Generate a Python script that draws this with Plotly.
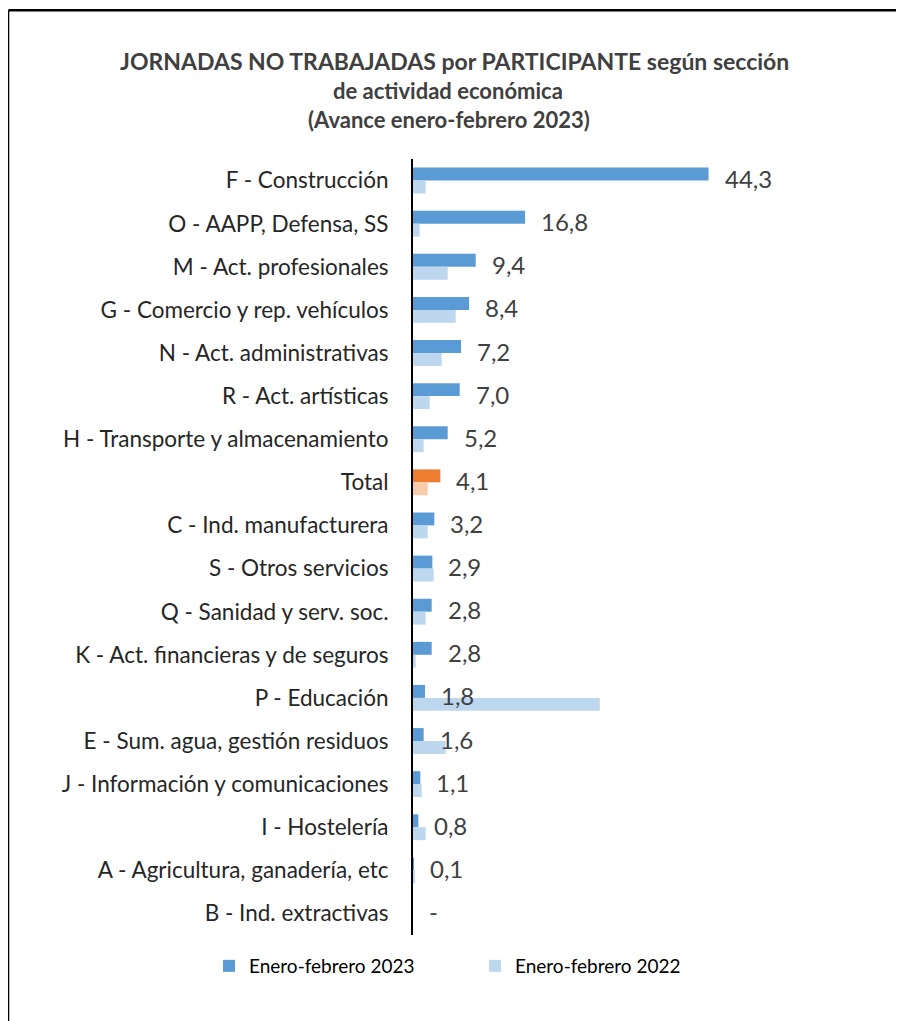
import plotly.graph_objects as go

categories = [
    "F - Construcción",
    "O - AAPP, Defensa, SS",
    "M - Act. profesionales",
    "G - Comercio y rep. vehículos",
    "N - Act. administrativas",
    "R - Act. artísticas",
    "H - Transporte y almacenamiento",
    "Total",
    "C - Ind. manufacturera",
    "S - Otros servicios",
    "Q - Sanidad y serv. soc.",
    "K - Act. financieras y de seguros",
    "P - Educación",
    "E - Sum. agua, gestión residuos",
    "J - Información y comunicaciones",
    "I - Hostelería",
    "A - Agricultura, ganadería, etc",
    "B - Ind. extractivas",
]
values_2023 = [44.3, 16.8, 9.4, 8.4, 7.2, 7.0, 5.2, 4.1, 3.2, 2.9, 2.8, 2.8, 1.8, 1.6, 1.1, 0.8, 0.1, 0.0]
values_2022 = [1.9, 1.0, 5.2, 6.4, 4.3, 2.5, 1.6, 2.2, 2.2, 3.1, 1.9, 0.4, 28.0, 4.9, 1.3, 1.9, 0.3, 0.0]
series_names = ["Enero-febrero 2023", "Enero-febrero 2022"]
title_lines = [
    "JORNADAS NO TRABAJADAS por PARTICIPANTE según sección",
    "de actividad económica",
    "(Avance enero-febrero 2023)",
]

BLUE, LBLUE = "#5B9BD5", "#BDD7EE"
ORANGE, LORANGE = "#ED7D31", "#F8CBAD"
colors_2023 = [ORANGE if c == "Total" else BLUE for c in categories]
colors_2022 = [LORANGE if c == "Total" else LBLUE for c in categories]

# page body has an 8px margin, so figure coordinates = screen - 8
OFF = 8
W, H = 896, 1013
ML, MR, MT, MB = 405, 24, 151, 80
XMAX = 70

fig = go.Figure()
fig.add_trace(go.Bar(y=categories, x=values_2023, orientation="h", name=series_names[0],
                     legend="legend",
                     marker=dict(color=colors_2023, line=dict(width=0))))
fig.add_trace(go.Bar(y=categories, x=values_2022, orientation="h", name=series_names[1],
                     legend="legend2",
                     marker=dict(color=colors_2022, line=dict(width=0))))

def fmt(v):
    return "-" if v == 0 else f"{v:.1f}".replace(".", ",")

annotations = []
for c, v in zip(categories, values_2023):
    annotations.append(dict(x=v, y=c, xref="x", yref="y", text=fmt(v), showarrow=False,
                            xanchor="left", yanchor="middle", xshift=14, yshift=2,
                            font=dict(family="Lato", size=24, color="#404040")))

pw = W - ML - MR
ph = H - MT - MB
def px_to_paper_x(px):
    return (px - OFF - ML) / pw
def py_to_paper_y(py):
    return (H - MB - (py - OFF)) / ph

title_y = [60, 90, 119]
title_x = [454, 448, 449]
title_sizes = [23, 22, 22]
for t, xx, yy, s in zip(title_lines, title_x, title_y, title_sizes):
    annotations.append(dict(x=px_to_paper_x(xx), y=py_to_paper_y(yy), xref="paper", yref="paper",
                            text=f"<b>{t}</b>", showarrow=False, xanchor="center", yanchor="middle",
                            font=dict(family="Lato", size=s, color="#404040")))

shapes = [
    dict(type="line", xref="paper", yref="paper", x0=px_to_paper_x(8.5), x1=px_to_paper_x(930),
         y0=py_to_paper_y(9), y1=py_to_paper_y(9), line=dict(color="black", width=2.5)),
    dict(type="line", xref="paper", yref="paper", x0=px_to_paper_x(8), x1=px_to_paper_x(8),
         y0=py_to_paper_y(9), y1=py_to_paper_y(1040), line=dict(color="black", width=2.5)),
]

legend_font = dict(family="Lato", size=19, color="#000000")
legend_y = 1 - (966 - OFF) / H

fig.update_layout(
    width=W, height=H,
    margin=dict(l=ML, r=MR, t=MT, b=MB, pad=0),
    paper_bgcolor="white", plot_bgcolor="white",
    barmode="group", bargap=0.4, bargroupgap=0,
    showlegend=True,
    legend=dict(orientation="h", xref="container", yref="container",
                x=(209 - OFF) / W, y=legend_y, xanchor="left", yanchor="middle",
                bgcolor="rgba(0,0,0,0)", font=legend_font),
    legend2=dict(orientation="h", xref="container", yref="container",
                 x=(475 - OFF) / W, y=legend_y, xanchor="left", yanchor="middle",
                 bgcolor="rgba(0,0,0,0)", font=legend_font),
    annotations=annotations,
    shapes=shapes,
    xaxis=dict(range=[0, XMAX], visible=False, showgrid=False, zeroline=False),
    yaxis=dict(autorange="reversed", showline=True, linecolor="black", linewidth=2,
               showgrid=False, zeroline=False, ticks="", ticklabelstandoff=18,
               tickfont=dict(family="Lato", size=22.5, color="#262626")),
)

fig.write_html("out.html")
